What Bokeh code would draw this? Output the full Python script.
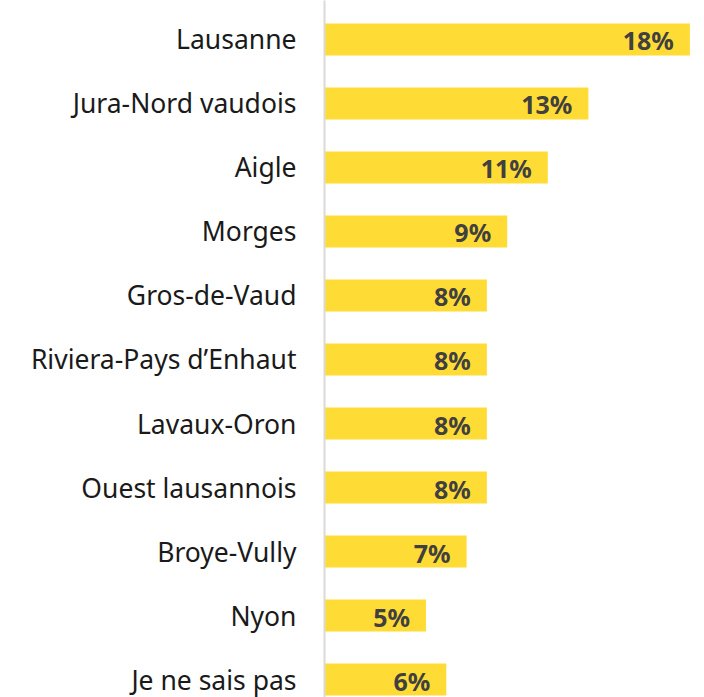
from bokeh.plotting import figure
from bokeh.models import Range1d, FixedTicker, ColumnDataSource
from bokeh.core.properties import value
from bokeh.embed import file_html
from bokeh.resources import INLINE

categories = ["Lausanne", "Jura-Nord vaudois", "Aigle", "Morges", "Gros-de-Vaud",
              "Riviera-Pays d’Enhaut", "Lavaux-Oron", "Ouest lausannois",
              "Broye-Vully", "Nyon", "Je ne sais pas"]
values = [18, 13, 11, 9, 8, 8, 8, 8, 7, 5, 6]
labels = [f"{v}%" for v in values]

pos = list(range(len(categories)))
src = ColumnDataSource(dict(y=pos, v=values, lab=labels))

p = figure(width=704, height=697, output_backend="svg", toolbar_location=None,
           x_range=Range1d(0, 18.72), y_range=Range1d(10.281, -0.609),
           min_border_left=324, min_border_right=0, min_border_top=0, min_border_bottom=0)

p.hbar(y="y", right="v", left=0, height=0.5, source=src,
       fill_color="#FFDC35", line_color=None)
p.text(x="v", y="y", text="lab", source=src, x_offset=-16, y_offset=1,
       text_align="right", text_baseline="middle",
       text_font=value("Noto Sans"), text_font_style="bold",
       text_font_size="25px", text_color="#404040")

p.xaxis.visible = False
p.grid.visible = False
p.outline_line_color = None

ax = p.yaxis[0]
ax.ticker = FixedTicker(ticks=pos)
ax.major_label_overrides = {i: c for i, c in enumerate(categories)}
ax.major_tick_line_color = None
ax.minor_tick_line_color = None
ax.major_tick_out = 0
ax.major_tick_in = 0
ax.major_label_standoff = 28
ax.axis_line_color = "#D9D9D9"
ax.axis_line_width = 2
ax.major_label_text_font = "Noto Sans"
ax.major_label_text_font_size = "26.5px"
ax.major_label_text_color = "#1A1A1A"

open("out.html", "w").write(file_html(p, INLINE))
